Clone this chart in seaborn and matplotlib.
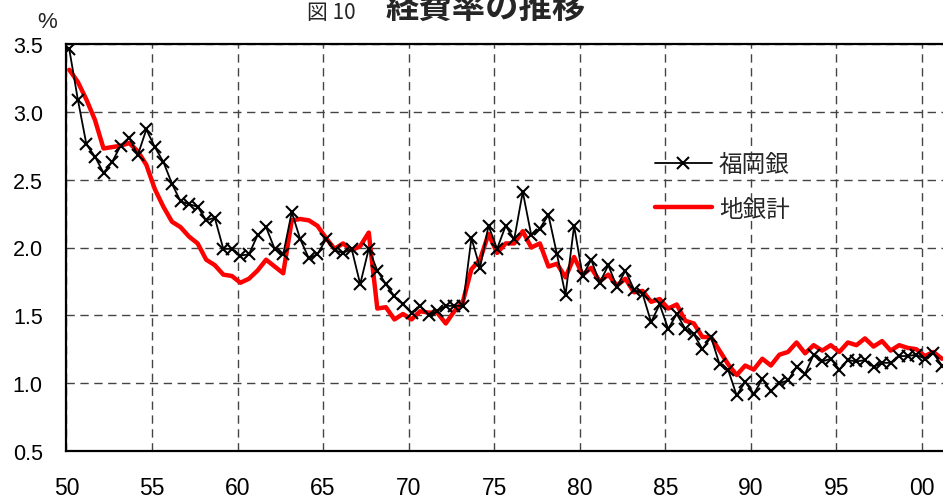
import numpy as np
import pandas as pd
import matplotlib
matplotlib.use("Agg")
import matplotlib.pyplot as plt
import seaborn as sns

# half-year periods 1950 .. 2001
periods = np.arange(1950, 2001.5, 0.5)

fukuoka = [3.46, 3.09, 2.76, 2.67, 2.55, 2.63, 2.75, 2.81, 2.68, 2.87,
           2.74, 2.63, 2.47, 2.34, 2.32, 2.30, 2.20, 2.22, 1.99, 1.99,
           1.94, 1.95, 2.09, 2.15, 1.99, 1.95, 2.26, 2.06, 1.92, 1.95,
           2.06, 1.98, 1.96, 1.99, 1.73, 1.99, 1.83, 1.73, 1.64, 1.58,
           1.52, 1.57, 1.50, 1.53, 1.57, 1.57, 1.57, 2.07, 1.85, 2.16,
           1.99, 2.16, 2.06, 2.41, 2.09, 2.14, 2.24, 1.95, 1.65, 2.16,
           1.79, 1.91, 1.74, 1.87, 1.71, 1.83, 1.69, 1.66, 1.45, 1.58,
           1.40, 1.51, 1.40, 1.36, 1.25, 1.34, 1.14, 1.10, 0.91, 1.01,
           0.92, 1.03, 0.94, 1.00, 1.02, 1.12, 1.07, 1.21, 1.16, 1.18,
           1.10, 1.17, 1.16, 1.17, 1.12, 1.15, 1.15, 1.20, 1.20, 1.21,
           1.18, 1.22, 1.13]

chigin = [3.31, 3.22, 3.09, 2.94, 2.73, 2.74, 2.75, 2.77, 2.71, 2.61,
          2.43, 2.30, 2.19, 2.15, 2.08, 2.03, 1.91, 1.87, 1.80, 1.79,
          1.74, 1.77, 1.83, 1.91, 1.86, 1.81, 2.20, 2.21, 2.20, 2.16,
          2.07, 1.99, 2.03, 1.98, 2.01, 2.11, 1.55, 1.56, 1.47, 1.51,
          1.47, 1.53, 1.52, 1.52, 1.44, 1.53, 1.60, 1.84, 1.91, 2.10,
          1.96, 2.03, 2.03, 2.12, 2.00, 2.03, 1.86, 1.88, 1.78, 1.93,
          1.80, 1.85, 1.75, 1.80, 1.72, 1.77, 1.67, 1.68, 1.60, 1.62,
          1.55, 1.58, 1.46, 1.44, 1.34, 1.34, 1.24, 1.14, 1.06, 1.13,
          1.10, 1.18, 1.13, 1.21, 1.23, 1.30, 1.22, 1.28, 1.24, 1.28,
          1.23, 1.30, 1.28, 1.33, 1.27, 1.31, 1.24, 1.28, 1.26, 1.25,
          1.20, 1.23, 1.18]

xtick_years = [1950, 1955, 1960, 1965, 1970, 1975, 1980, 1985, 1990, 1995, 2000]
xtick_labels = ["50", "55", "60", "65", "70", "75", "80", "85", "90", "95", "00"]
ytick_vals = [0.5, 1.0, 1.5, 2.0, 2.5, 3.0, 3.5]
ytick_labels = ["0.5", "1.0", "1.5", "2.0", "2.5", "3.0", "3.5"]

label_f = "福岡銀"
label_c = "地銀計"
title_num = "図 10"
title_txt = "経費率の推移"

sns.set_style("white")
plt.rcParams['font.family'] = ['Liberation Sans', 'Noto Sans CJK JP', 'DejaVu Sans']

df = pd.DataFrame({"x": periods + 0.17, "f": fukuoka, "c": chigin})

W, H = 943, 502
fig = plt.figure(figsize=(W / 100, H / 100), dpi=100)
ax_left, ax_right, ax_top, ax_bottom = 66.4, 943, 45, 452
ax = fig.add_axes([ax_left / W, 1 - ax_bottom / H, (ax_right - ax_left) / W, (ax_bottom - ax_top) / H])

sns.lineplot(data=df, x="x", y="c", ax=ax, color="#ff0000", lw=3.2, label=label_c, zorder=3)
sns.lineplot(data=df, x="x", y="f", ax=ax, color="black", lw=1.3, marker="x",
             markersize=8, markeredgewidth=1.5, markeredgecolor="black",
             label=label_f, zorder=4)

ax.set_xlim(1950, 2001.23)
ax.set_ylim(0.5, 3.5)
ax.set_xticks(xtick_years)
ax.set_xticklabels(xtick_labels)
ax.set_yticks(ytick_vals)
ax.set_yticklabels(ytick_labels)
ax.set_xlabel("")
ax.set_ylabel("")
ax.tick_params(axis="both", length=0, colors="black")
ax.tick_params(axis="x", pad=18, labelsize=16.5)
ax.tick_params(axis="y", pad=17, labelsize=15.5)

ax.grid(True, color="#444444", linestyle=(0, (6, 4)), lw=1.0)
for s in ["left", "bottom", "top"]:
    ax.spines[s].set_visible(True)
    ax.spines[s].set_color("black")
    ax.spines[s].set_linewidth(1.6)
ax.spines["right"].set_visible(False)

h, l = ax.get_legend_handles_labels()
order = [l.index(label_f), l.index(label_c)]
leg = ax.legend([h[i] for i in order], [l[i] for i in order],
                loc="upper left", bbox_to_anchor=(655 / W, 1 - 154 / H),
                bbox_transform=fig.transFigure, frameon=False,
                prop={"family": ["Noto Sans CJK JP"], "size": 17},
                handlelength=2.4, handletextpad=0.3, labelspacing=0.92,
                borderpad=0, borderaxespad=0)

fig.text(37 / W, 1 - 28 / H, "%", fontsize=16, va="baseline", ha="left")
fig.text(307 / W, 1 - 19 / H, title_num, fontsize=15, va="baseline", ha="left",
         family=["Noto Sans CJK JP"])
fig.text(386 / W, 1 - 18 / H, title_txt, fontsize=24, fontweight="bold", va="baseline",
         ha="left", family=["Noto Sans CJK JP"])

fig.savefig("out.png", dpi=100)
